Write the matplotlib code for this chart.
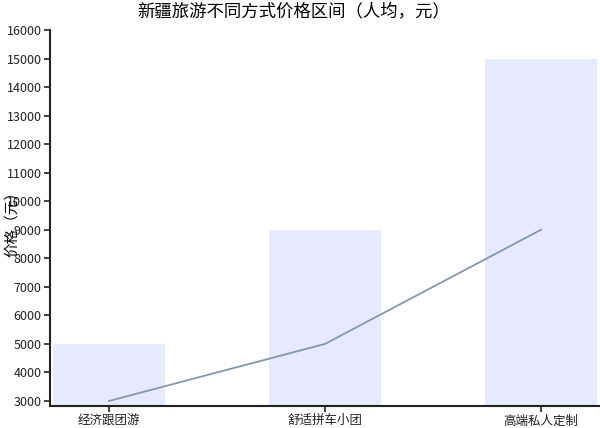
import matplotlib
matplotlib.use("Agg")
import matplotlib.pyplot as plt

plt.rcParams['font.family'] = ['Noto Sans CJK SC', 'DejaVu Sans']

# 数据
categories = ["经济跟团游", "舒适拼车小团", "高端私人定制"]
bar_values = [5000, 9000, 15000]
line_values = [3000, 5000, 9000]

fig = plt.figure(figsize=(6, 4.28), dpi=100)
ax = fig.add_axes([0.0833, 0.0514, 0.9167, 0.8786])

x = list(range(len(categories)))
ax.bar(x, bar_values, width=0.52, color="#e7e9fc")
ax.plot(x, line_values, color="#8796ab", linewidth=1.3)

ax.set_ylim(2825, 16000)
ax.set_xlim(-0.273, 2.273)
ax.set_yticks(range(3000, 16001, 1000))
ax.set_xticks(x)
ax.set_xticklabels(categories)
ax.tick_params(axis="both", labelsize=9, colors="#222222", length=4, width=1.2, pad=2)

for side in ["top", "right"]:
    ax.spines[side].set_visible(False)
for side in ["left", "bottom"]:
    ax.spines[side].set_linewidth(1.5)
    ax.spines[side].set_color("#222222")

fig.text(0.008, 0.486, "价格（元）", rotation=90, fontsize=10.5, va="center", ha="left")
fig.text(0.49, 0.972, "新疆旅游不同方式价格区间（人均，元）", fontsize=12.5, ha="center", va="center")

fig.savefig("out.png", dpi=100)
